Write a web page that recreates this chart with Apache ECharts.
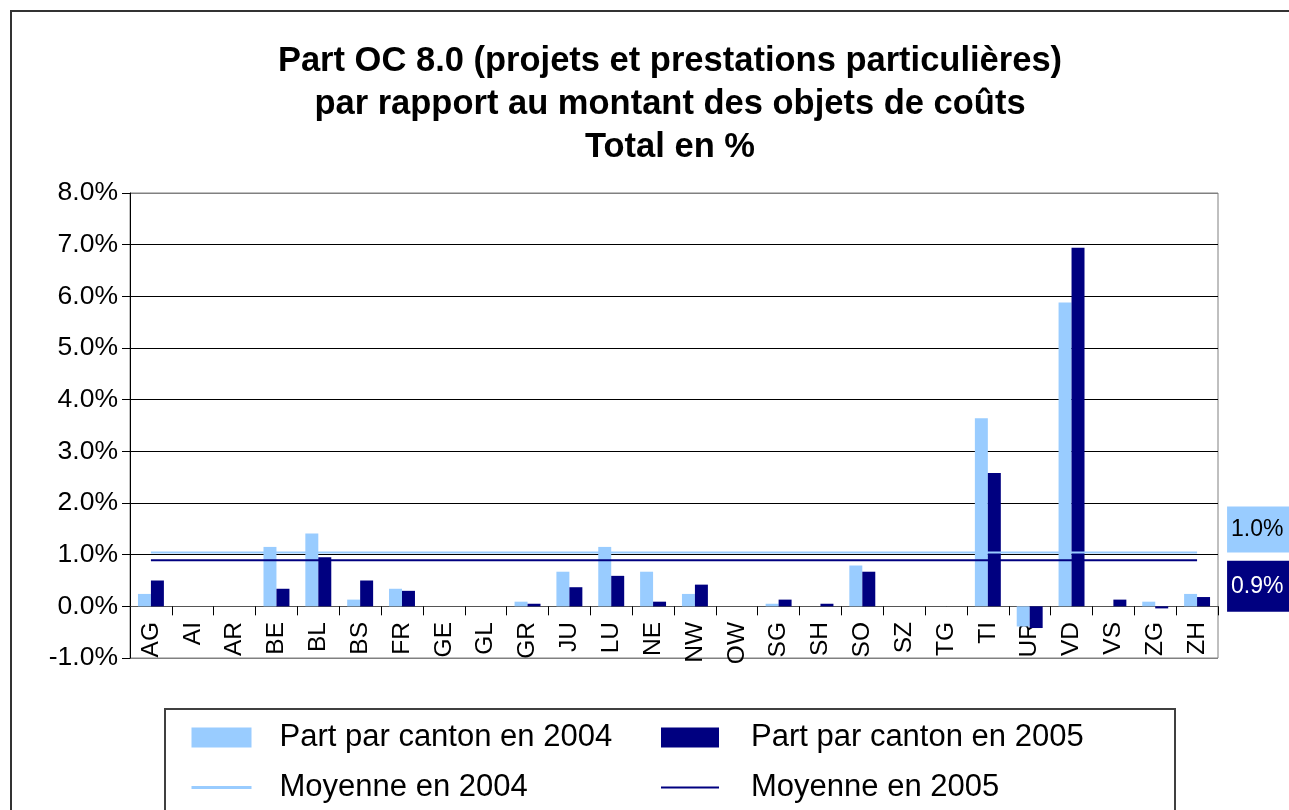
<!DOCTYPE html>
<html>
<head>
<meta charset="utf-8">
<script src="https://cdn.jsdelivr.net/npm/echarts@6/dist/echarts.min.js"></script>
<style>html,body{margin:0;padding:0;background:#fff}#c{width:1289px;height:810px}</style>
</head>
<body>
<div id="c"></div>
<script>
const categories = ['AG','AI','AR','BE','BL','BS','FR','GE','GL','GR','JU','LU','NE','NW','OW','SG','SH','SO','SZ','TG','TI','UR','VD','VS','ZG','ZH'];
const share2004 = [0.24, 0, 0, 1.15, 1.41, 0.13, 0.34, 0, 0, 0.09, 0.67, 1.15, 0.67, 0.24, 0, 0.05, 0, 0.79, 0, 0, 3.64, -0.39, 5.88, 0, 0.09, 0.24];
const share2005 = [0.50, 0, 0, 0.34, 0.95, 0.50, 0.30, 0, 0, 0.05, 0.37, 0.59, 0.09, 0.42, 0, 0.13, 0.05, 0.67, 0, 0, 2.58, -0.42, 6.94, 0.13, -0.04, 0.18];
const mean2004 = 1.04;
const mean2005 = 0.89;
const yTicks = [-1, 0, 1, 2, 3, 4, 5, 6, 7, 8];
const seriesNames = ['Part par canton en 2004', 'Part par canton en 2005', 'Moyenne en 2004', 'Moyenne en 2005'];
const titleText = 'Part OC 8.0 (projets et prestations particulières)\npar rapport au montant des objets de coûts\nTotal en %';

const FONT = "'Liberation Sans', Arial, sans-serif";
const LIGHT = '#99CCFF';
const DARK = '#000080';

const chart = echarts.init(document.getElementById('c'), null, {renderer: 'canvas'});
chart.setOption({
  animation: false,
  backgroundColor: '#fff',
  textStyle: {fontFamily: FONT},
  title: {
    text: titleText,
    left: 670, top: 40, padding: 0, textAlign: 'center',
    textStyle: {fontFamily: FONT, fontSize: 34.5, fontWeight: 'bold', color: '#000', lineHeight: 43}
  },
  grid: {left: 130, right: 71, top: 193, bottom: 152, show: true, borderColor: '#808080', borderWidth: 1, containLabel: false},
  legend: [
    {data: [{name: seriesNames[0], icon: 'rect'}, {name: seriesNames[2], itemStyle: {opacity: 0}, lineStyle: {width: 3}}],
     orient: 'vertical', left: 190, top: 722, padding: 0, itemGap: 19,
     itemWidth: 60, itemHeight: 20, textStyle: {fontFamily: FONT, fontSize: 31, color: '#000', padding: [0,0,0,23]}},
    {data: [{name: seriesNames[1], icon: 'rect'}, {name: seriesNames[3], itemStyle: {opacity: 0}, lineStyle: {width: 2}}],
     orient: 'vertical', left: 660, top: 722, padding: 0, itemGap: 19,
     itemWidth: 58, itemHeight: 20, textStyle: {fontFamily: FONT, fontSize: 31, color: '#000', padding: [0,0,0,27]}}
  ],
  xAxis: {
    type: 'category', data: categories,
    axisLine: {onZero: true, lineStyle: {color: '#555', width: 1}},
    axisTick: {show: true, length: 9, inside: false, lineStyle: {color: '#000'}},
    axisLabel: {rotate: 90, margin: -36, fontFamily: FONT, fontSize: 24.5, color: '#000', interval: 0},
    splitLine: {show: false}
  },
  yAxis: {
    type: 'value', min: -1, max: 8, interval: 1,
    axisLine: {show: true, lineStyle: {color: '#000'}},
    axisTick: {show: true, length: 8, lineStyle: {color: '#000'}},
    axisLabel: {margin: 12, fontFamily: FONT, fontSize: 26.5, color: '#000',
      formatter: v => (yTicks.indexOf(v) >= 0 ? v.toFixed(1) + '%' : '')},
    splitLine: {show: true, lineStyle: {color: ['#808080','#000','#000','#000','#000','#000','#000','#000','#000','#808080'], width: 1}}
  },
  series: [
    {name: seriesNames[0], type: 'bar', data: share2004, itemStyle: {color: LIGHT}, barGap: '0%', barCategoryGap: '38%'},
    {name: seriesNames[1], type: 'bar', data: share2005, itemStyle: {color: DARK}, barGap: '0%', barCategoryGap: '38%'},
    {name: seriesNames[2], type: 'line', data: categories.map(() => mean2004), symbol: 'none',
     lineStyle: {color: LIGHT, width: 2}, itemStyle: {color: LIGHT}, z: 5,
     endLabel: {show: true, formatter: p => p.value.toFixed(1) + '%', distance: 30, offset: [0, -23],
       backgroundColor: LIGHT, color: '#000', fontFamily: FONT, fontSize: 23, padding: [12, 10, 11, 4]}},
    {name: seriesNames[3], type: 'line', data: categories.map(() => mean2005), symbol: 'none',
     lineStyle: {color: DARK, width: 2}, itemStyle: {color: DARK}, z: 5,
     endLabel: {show: true, formatter: p => p.value.toFixed(1) + '%', distance: 30, offset: [0, 26],
       backgroundColor: DARK, color: '#fff', fontFamily: FONT, fontSize: 23, padding: [14, 10, 14, 4]}}
  ],
  graphic: [
    {type: 'rect', shape: {x: 11, y: 11, width: 1400, height: 900}, style: {fill: 'none', stroke: '#333', lineWidth: 2}, silent: true},
    {type: 'rect', shape: {x: 165, y: 709, width: 1010, height: 200}, style: {fill: 'none', stroke: '#404040', lineWidth: 2}, silent: true}
  ]
});
</script>
</body>
</html>
